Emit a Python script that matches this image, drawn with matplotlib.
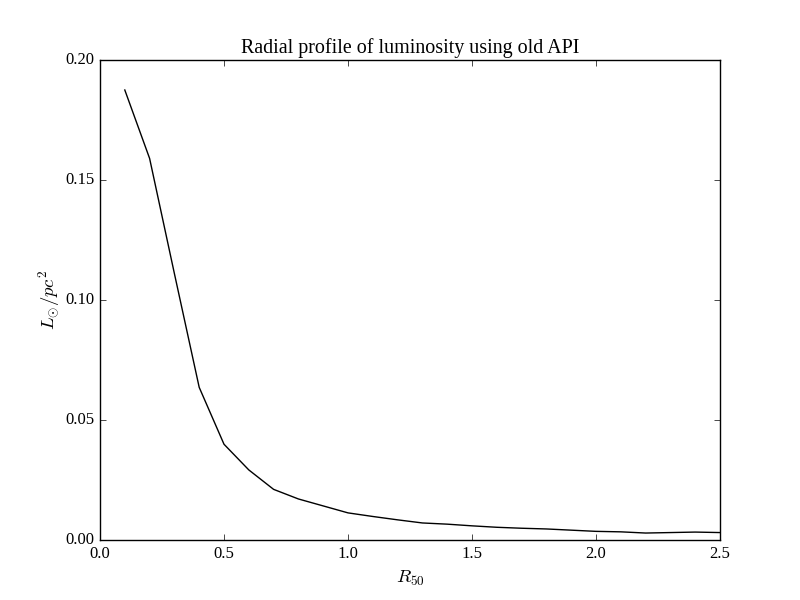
import matplotlib
matplotlib.use("Agg")
import matplotlib.pyplot as plt

radius = [0.1, 0.2, 0.3, 0.4, 0.5, 0.6, 0.7, 0.8, 0.9, 1.0, 1.1, 1.2, 1.3,
          1.4, 1.5, 1.6, 1.7, 1.8, 1.9, 2.0, 2.1, 2.2, 2.3, 2.4, 2.5]
luminosity = [0.1875, 0.159, 0.111, 0.0636, 0.0399, 0.0292, 0.0211, 0.0171,
              0.0142, 0.0113, 0.0098, 0.0084, 0.0071, 0.0066, 0.0059, 0.0053,
              0.0049, 0.0046, 0.0041, 0.0036, 0.0034, 0.0029, 0.0031, 0.0033,
              0.0031]

plt.style.use('classic')
plt.rcParams['font.family'] = ['Liberation Serif', 'DejaVu Serif']
plt.rcParams['mathtext.fontset'] = 'cm'

fig = plt.figure(figsize=(8, 6), dpi=100, facecolor='white')
ax = fig.add_subplot(111)
ax.plot(radius, luminosity, color='black', linewidth=1.0)
ax.set_xlim(0, 2.5)
ax.set_ylim(0, 0.2)
ax.set_xticks([0.0, 0.5, 1.0, 1.5, 2.0, 2.5])
ax.set_yticks([0.0, 0.05, 0.10, 0.15, 0.20])
ax.set_xticklabels(['0.0', '0.5', '1.0', '1.5', '2.0', '2.5'])
ax.set_yticklabels(['0.00', '0.05', '0.10', '0.15', '0.20'])
ax.set_xlabel(r'$R_{50}$', fontsize=13.5)
ax.set_ylabel(r'$L_{\odot}/pc^2$', fontsize=13.5, labelpad=2)
ax.set_title('Radial profile of luminosity using old API')
fig.savefig('out.png', dpi=100, facecolor='white')
